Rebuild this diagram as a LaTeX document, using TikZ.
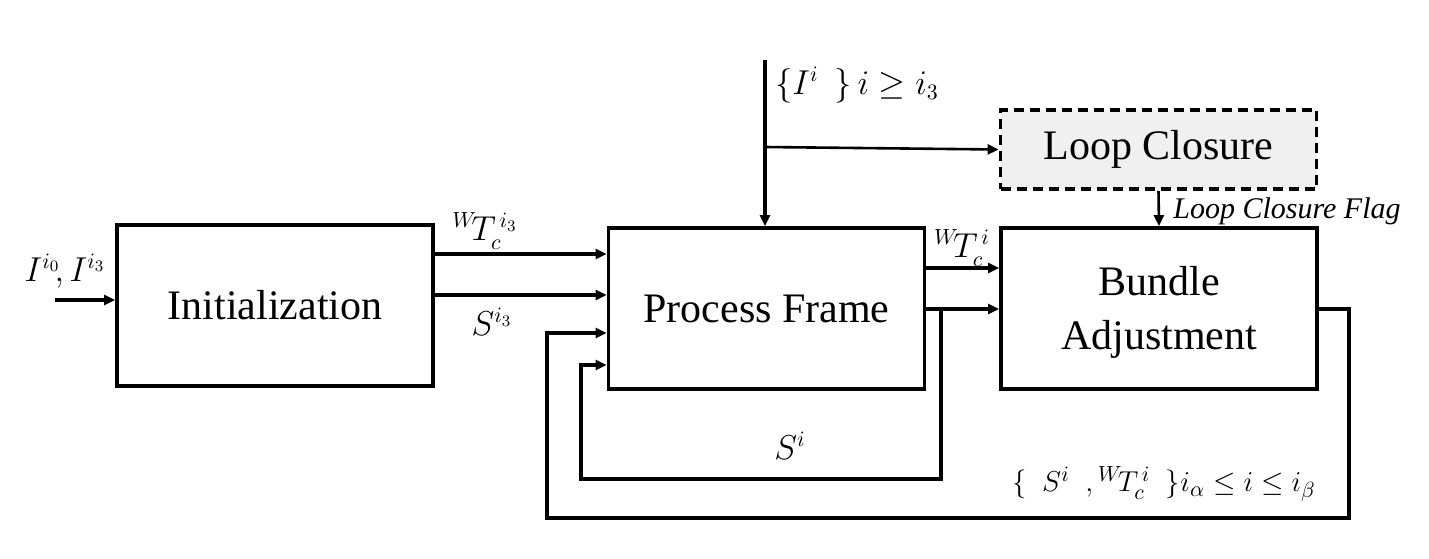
\documentclass[tikz,border=0pt]{standalone}
\usepackage{fontspec}
\setmainfont{Liberation Serif}
\usetikzlibrary{arrows.meta}
\begin{document}
\begin{tikzpicture}[x=0.5pt,y=-0.5pt,
  blk/.style={draw,line width=1.9pt,minimum width=158pt,minimum height=80.5pt,inner sep=0pt,align=center,font=\fontsize{21}{25}\selectfont},
  conn/.style={line width=1.7pt,-{Triangle[length=5.5pt,width=5pt]}},
  lab/.style={inner sep=0pt,font=\fontsize{16}{19}\selectfont}]
\path[use as bounding box,fill=white] (0,0) rectangle (1429,558);
% blocks
\node[blk] (init) at (275,305.5) {Initialization};
\node[blk] (pf) at (766.5,308.5) {Process Frame};
\node[blk] (ba) at (1159,308.5) {};
\node[inner sep=0pt,align=center,font=\fontsize{21}{25}\selectfont] (batxt) at (1159,312) {Bundle\\[2pt]Adjustment};
\node[blk,dashed,dash pattern=on 5pt off 3pt,fill=black!6,minimum height=39.5pt] (lc) at (1158.5,149.5) {Loop Closure};
% helper coordinates
\coordinate (in0) at (55,300);
\coordinate (top) at (765,60);
\coordinate (br) at (765,147);
\coordinate (yA) at (0,254);
\coordinate (yB) at (0,295);
\coordinate (yC) at (0,268);
\coordinate (yD) at (0,309);
\coordinate (sp) at (941,309);
\coordinate (s1) at (941,479);
\coordinate (s2) at (581,479);
\coordinate (s3) at (581,365);
\coordinate (o1) at (1349,309);
\coordinate (o2) at (1349,518);
\coordinate (o3) at (547,518);
\coordinate (o4) at (547,333);
% connectors
\draw[conn] (in0) -- (in0 -| init.west);
\draw[conn] (top) -- (top |- pf.north);
\draw[conn,line width=1.3pt] (br) -- (lc.west);
\draw[conn,line width=1.3pt] (lc.south) -- (ba.north);
\draw[conn] (init.east |- yA) -- (pf.west |- yA);
\draw[conn] (init.east |- yB) -- (pf.west |- yB);
\draw[conn] (pf.east |- yC) -- (ba.west |- yC);
\draw[conn] (pf.east |- yD) -- (ba.west |- yD);
\draw[conn] (sp) -- (s1) -- (s2) -- (s3) -- (pf.west |- s3);
\draw[conn] (ba.east |- yD) -- (o1) -- (o2) -- (o3) -- (o4) -- (pf.west |- o4);
% labels
\node[lab] (l1) at (65,271) {$I^{i_0}\!,I^{i_3}$};
\node[lab] (l2) at (485,231) {${}^{W}\!T_c^{\,i_3}$};
\node[lab] (l3) at (492,322) {$S^{i_3}$};
\node[lab] (l4) at (962,248) {${}^{W}\!T_c^{\,i}$};
\node[lab] (l5) at (857,85) {$\{I^{i}\ \ \}\,i \geq i_3$};
\node[lab,font=\fontsize{15}{18}\selectfont\itshape] (l6) at (1287,211) {Loop Closure Flag};
\node[lab] (l7) at (790,446) {$S^{i}$};
\node[lab,font=\fontsize{15.5}{18}\selectfont] (l8) at (1164,484) {$\{\ \ S^{i}\ \ ,{}^{W}\!T_c^{\,i}\ \ \}i_\alpha \leq i \leq i_\beta$};
\end{tikzpicture}
\end{document}
